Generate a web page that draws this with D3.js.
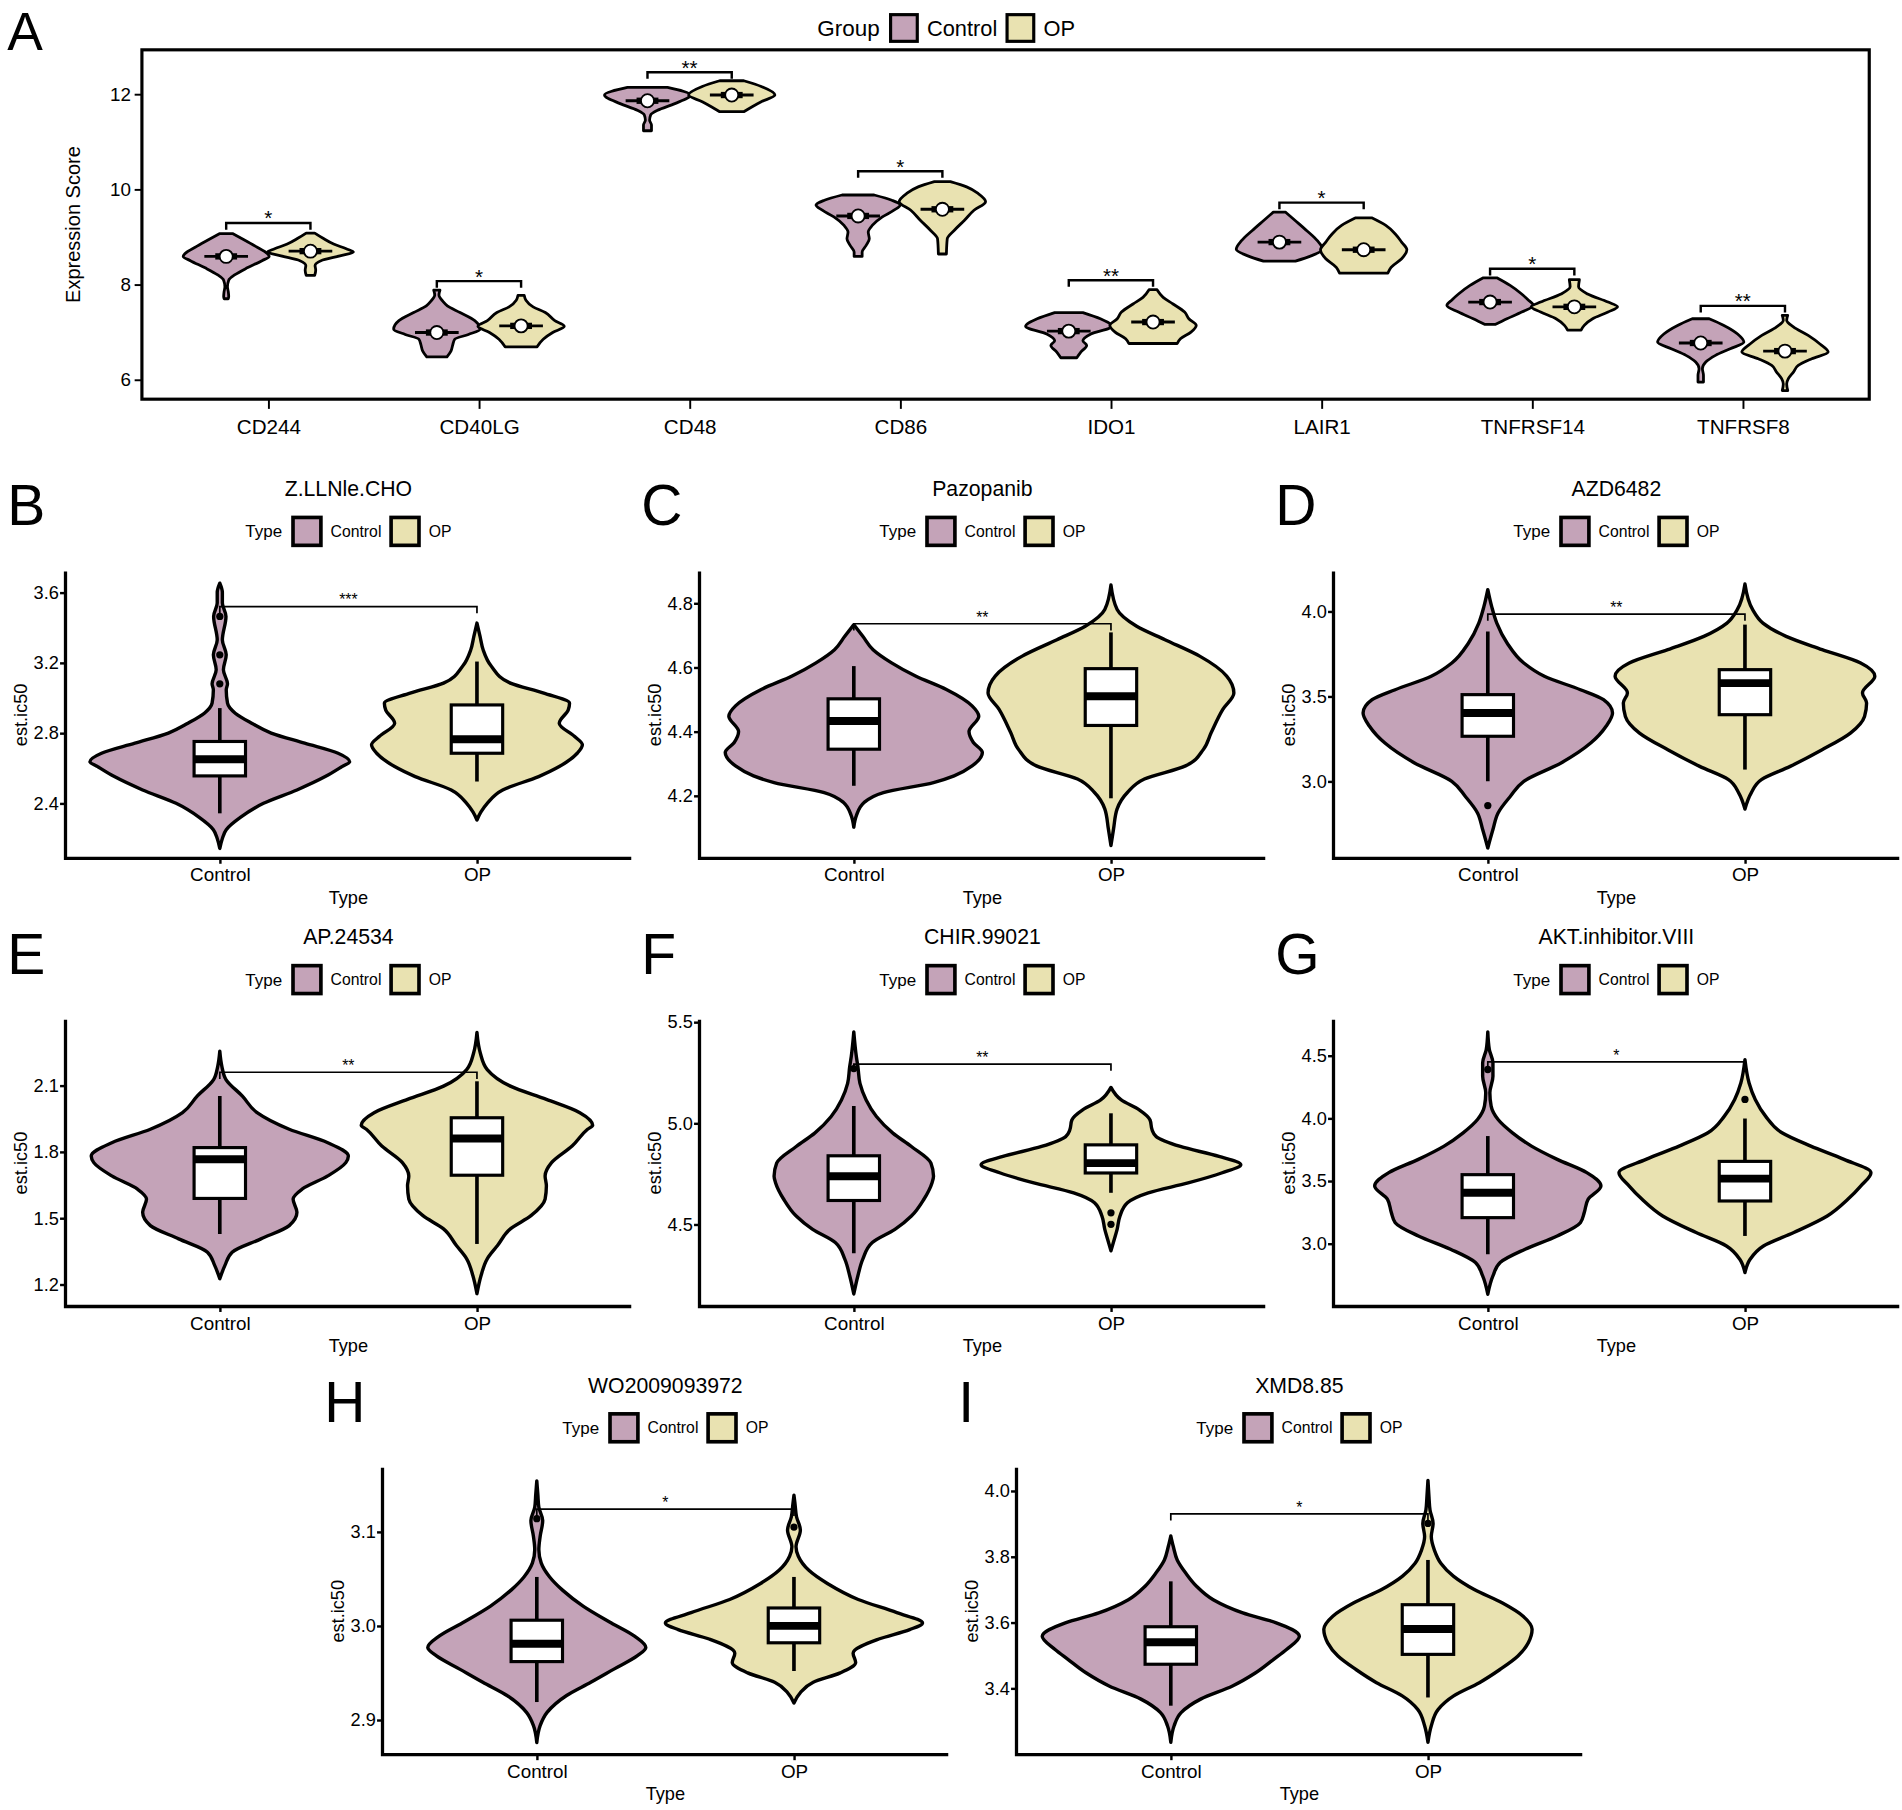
<!DOCTYPE html>
<html>
<head>
<meta charset="utf-8">
<script src="https://cdn.jsdelivr.net/npm/d3@7"></script>
<style>
  body { margin: 0; background: #fff; }
  text { font-family: "Liberation Sans", Arial, sans-serif; fill: #000; }
</style>
</head>
<body>
<div id="chart"></div>
<script>
// ---------- data: panel A (immune checkpoint genes) ----------
const geneNames = ["CD244", "CD40LG", "CD48", "CD86", "IDO1", "LAIR1", "TNFRSF14", "TNFRSF8"];
const groupNames = ["Control", "OP"];
const groupFill = ["#C4A3B8", "#E9E2B1"];
const geneTicks = [6, 8, 10, 12];
const geneRange = [5.59, 12.93];
const geneSig = ["*", "*", "**", "*", "**", "*", "*", "**"];
const geneBracket = [9.29, 8.07, 12.46, 10.38, 8.09, 9.72, 8.33, 7.55];
// centre point (white dot) per gene: [Control, OP]
const geneCentre = [[8.59, 8.70], [6.99, 7.13], [11.86, 11.98], [9.44, 9.58],
                    [7.02, 7.21], [8.89, 8.73], [7.63, 7.53], [6.77, 6.60]];
// violin outlines: [value, relative half width], trimmed at data range
const geneViolin = [
  [[[9.07,0.03],[8.95,0.08],[8.8,0.14],[8.65,0.195],[8.59,0.204],[8.5,0.17],[8.35,0.1],[8.2,0.04],[8.09,0.012],[7.95,0.006],[7.85,0.01],[7.75,0.012],[7.70,0.01]],
   [[9.08,0.02],[8.97,0.06],[8.85,0.11],[8.75,0.17],[8.68,0.204],[8.6,0.14],[8.5,0.05],[8.4,0.022],[8.3,0.025],[8.19,0.02]]],
  [[[7.88,0.015],[7.78,0.01],[7.64,0.03],[7.55,0.05],[7.41,0.11],[7.24,0.18],[7.06,0.205],[6.95,0.15],[6.85,0.085],[6.74,0.076],[6.6,0.067],[6.48,0.048]],
   [[7.77,0.015],[7.67,0.023],[7.53,0.057],[7.41,0.115],[7.24,0.16],[7.12,0.205],[6.99,0.15],[6.85,0.105],[6.69,0.076]]],
  [[[12.14,0.095],[11.98,0.204],[11.8,0.13],[11.66,0.048],[11.56,0.015],[11.45,0.01],[11.35,0.019],[11.23,0.019]],
   [[12.28,0.057],[12.16,0.14],[11.98,0.205],[11.84,0.14],[11.73,0.095],[11.63,0.057]]],
  [[[9.88,0.076],[9.77,0.16],[9.67,0.2],[9.56,0.17],[9.42,0.115],[9.24,0.067],[9.1,0.048],[8.96,0.053],[8.82,0.038],[8.68,0.019],[8.59,0.019]],
   [[10.16,0.038],[10.05,0.115],[9.91,0.17],[9.74,0.205],[9.56,0.15],[9.35,0.105],[9.14,0.057],[8.96,0.023],[8.64,0.019]]],
  [[[7.41,0.067],[7.28,0.15],[7.12,0.205],[6.96,0.105],[6.82,0.067],[6.72,0.085],[6.58,0.057],[6.46,0.038]],
   [[7.89,0.019],[7.73,0.048],[7.59,0.095],[7.42,0.15],[7.28,0.17],[7.14,0.205],[7.0,0.18],[6.86,0.13],[6.76,0.115]]],
  [[[9.52,0.029],[9.34,0.076],[9.13,0.13],[8.92,0.18],[8.74,0.205],[8.6,0.15],[8.49,0.076]],
   [[9.4,0.038],[9.24,0.105],[9.06,0.15],[8.89,0.18],[8.73,0.205],[8.54,0.18],[8.36,0.13],[8.24,0.115]]],
  [[[8.14,0.032],[7.98,0.095],[7.8,0.15],[7.68,0.18],[7.56,0.205],[7.42,0.15],[7.28,0.08],[7.16,0.024]],
   [[8.10,0.024],[7.95,0.02],[7.8,0.063],[7.63,0.16],[7.53,0.205],[7.42,0.16],[7.28,0.087],[7.14,0.047],[7.04,0.032]]],
  [[[7.28,0.04],[7.14,0.11],[6.96,0.175],[6.79,0.205],[6.65,0.14],[6.51,0.07],[6.37,0.024],[6.23,0.008],[6.09,0.013],[5.95,0.013]],
   [[7.35,0.013],[7.25,0.008],[7.11,0.04],[6.93,0.11],[6.75,0.166],[6.58,0.205],[6.44,0.127],[6.3,0.063],[6.16,0.04],[6.02,0.016],[5.91,0.008],[5.77,0.013]]]
];

// ---------- data: panels B-I (drug sensitivity, est.ic50) ----------
const drugNames = ["Z.LLNle.CHO", "Pazopanib", "AZD6482", "AP.24534", "CHIR.99021",
                   "AKT.inhibitor.VIII", "WO2009093972", "XMD8.85"];
const drugLetters = ["B", "C", "D", "E", "F", "G", "H", "I"];
const drugSig = ["***", "**", "**", "**", "**", "*", "*", "*"];
const drugBracket = [3.52, 4.736, 3.984, 2.16, 5.292, 4.45, 3.124, 3.93];
const drugRange = [[2.087, 3.72], [4.005, 4.899], [2.547, 4.235], [1.1, 2.398],
                   [4.094, 5.512], [2.498, 4.787], [2.863, 3.168], [3.198, 4.07]];
const drugTicks = [[2.4, 2.8, 3.2, 3.6], [4.2, 4.4, 4.6, 4.8], [3.0, 3.5, 4.0], [1.2, 1.5, 1.8, 2.1],
                   [4.5, 5.0, 5.5], [3.0, 3.5, 4.0, 4.5], [2.9, 3.0, 3.1], [3.4, 3.6, 3.8, 4.0]];
// box stats: [lower whisker, q1, median, q3, upper whisker] for [Control, OP]
const drugBoxStats = [
  [[2.343, 2.556, 2.651, 2.752, 2.942], [2.524, 2.685, 2.765, 2.96, 3.207]],
  [[4.231, 4.345, 4.433, 4.502, 4.604], [4.192, 4.419, 4.51, 4.596, 4.709]],
  [[3.0, 3.265, 3.402, 3.51, 3.882], [3.069, 3.392, 3.578, 3.657, 3.922]],
  [[1.428, 1.589, 1.766, 1.819, 2.052], [1.383, 1.694, 1.86, 1.954, 2.119]],
  [[4.357, 4.618, 4.738, 4.839, 5.085], [4.656, 4.754, 4.803, 4.893, 5.049]],
  [[2.915, 3.207, 3.406, 3.55, 3.858], [3.061, 3.34, 3.518, 3.656, 3.998]],
  [[2.919, 2.962, 2.981, 3.006, 3.052], [2.952, 2.982, 3.0, 3.019, 3.052]],
  [[3.347, 3.473, 3.54, 3.587, 3.725], [3.372, 3.503, 3.58, 3.654, 3.79]]
];
const drugOutliers = [
  [[3.08, 3.245, 3.464], []],
  [[], []],
  [[2.857], []],
  [[], []],
  [[5.27], [4.557, 4.5]],
  [[4.389], [4.15]],
  [[3.114], [3.105]],
  [[], [3.901]]
];
const drugViolin = [
  [[[2.143,0],[2.2,0.01],[2.25,0.025],[2.32,0.08],[2.4,0.17],[2.476,0.3],[2.552,0.41],[2.609,0.475],[2.637,0.505],[2.685,0.46],[2.742,0.33],[2.8,0.2],[2.856,0.124],[2.913,0.06],[2.97,0.03],[3.046,0.025],[3.08,0.03],[3.16,0.014],[3.245,0.025],[3.33,0.01],[3.464,0.024],[3.54,0.01],[3.6,0.01],[3.653,0]],
   [[2.305,0],[2.35,0.015],[2.4,0.04],[2.476,0.1],[2.552,0.24],[2.609,0.32],[2.685,0.39],[2.733,0.41],[2.78,0.38],[2.856,0.32],[2.932,0.355],[2.97,0.36],[3.027,0.26],[3.084,0.13],[3.18,0.056],[3.274,0.024],[3.35,0.012],[3.426,0]]],
  [[[4.102,0],[4.138,0.01],[4.179,0.04],[4.21,0.115],[4.241,0.31],[4.262,0.39],[4.293,0.46],[4.335,0.5],[4.366,0.465],[4.4,0.448],[4.448,0.486],[4.48,0.46],[4.531,0.36],[4.573,0.24],[4.614,0.147],[4.655,0.075],[4.697,0.035],[4.733,0]],
   [[4.045,0],[4.096,0.01],[4.159,0.024],[4.21,0.064],[4.252,0.13],[4.293,0.29],[4.345,0.36],[4.397,0.39],[4.469,0.435],[4.52,0.478],[4.573,0.45],[4.635,0.345],[4.686,0.21],[4.728,0.1],[4.78,0.024],[4.857,0]]],
  [[[2.608,0],[2.716,0.02],[2.814,0.04],[2.912,0.088],[3.0,0.14],[3.108,0.285],[3.225,0.4],[3.324,0.46],[3.402,0.485],[3.48,0.45],[3.539,0.36],[3.618,0.22],[3.696,0.14],[3.814,0.075],[3.931,0.035],[4.029,0.015],[4.128,0]],
   [[2.837,0],[2.931,0.024],[3.01,0.064],[3.088,0.176],[3.186,0.3],[3.284,0.41],[3.382,0.465],[3.461,0.473],[3.52,0.457],[3.618,0.505],[3.696,0.45],[3.775,0.3],[3.853,0.16],[3.931,0.07],[4.01,0.03],[4.161,0]]],
  [[[1.226,0],[1.286,0.02],[1.346,0.048],[1.406,0.16],[1.466,0.27],[1.526,0.3],[1.586,0.285],[1.631,0.32],[1.691,0.42],[1.751,0.49],[1.781,0.5],[1.841,0.42],[1.902,0.27],[1.977,0.145],[2.052,0.088],[2.127,0.024],[2.187,0.008],[2.255,0]],
   [[1.158,0],[1.24,0.016],[1.316,0.04],[1.376,0.08],[1.451,0.13],[1.511,0.21],[1.586,0.265],[1.646,0.27],[1.691,0.265],[1.751,0.29],[1.826,0.37],[1.902,0.43],[1.92,0.45],[1.977,0.4],[2.037,0.27],[2.097,0.13],[2.172,0.04],[2.247,0.013],[2.34,0]]],
  [[[4.156,0],[4.246,0.016],[4.328,0.035],[4.41,0.072],[4.475,0.16],[4.541,0.224],[4.623,0.272],[4.705,0.304],[4.738,0.31],[4.803,0.3],[4.885,0.224],[4.951,0.152],[5.033,0.088],[5.115,0.048],[5.197,0.024],[5.279,0.016],[5.328,0.01],[5.451,0]],
   [[4.369,0],[4.426,0.013],[4.475,0.024],[4.541,0.035],[4.607,0.064],[4.656,0.145],[4.705,0.3],[4.754,0.43],[4.795,0.505],[4.836,0.42],[4.885,0.27],[4.934,0.176],[4.967,0.16],[5.016,0.152],[5.066,0.11],[5.115,0.04],[5.177,0]]],
  [[[2.596,0],[2.742,0.02],[2.849,0.048],[2.955,0.145],[3.061,0.27],[3.167,0.36],[3.247,0.375],[3.353,0.39],[3.459,0.44],[3.566,0.385],[3.672,0.27],[3.778,0.17],[3.884,0.096],[3.99,0.04],[4.097,0.013],[4.203,0.008],[4.336,0.02],[4.442,0.02],[4.548,0.006],[4.689,0]],
   [[2.769,0],[2.875,0.02],[2.981,0.072],[3.088,0.19],[3.22,0.32],[3.353,0.4],[3.459,0.45],[3.566,0.49],[3.672,0.385],[3.778,0.256],[3.884,0.144],[4.017,0.08],[4.15,0.04],[4.282,0.016],[4.468,0]]],
  [[[2.876,0],[2.894,0.013],[2.908,0.04],[2.926,0.116],[2.94,0.21],[2.954,0.3],[2.968,0.39],[2.977,0.424],[2.989,0.38],[3.003,0.29],[3.021,0.18],[3.038,0.1],[3.052,0.05],[3.067,0.017],[3.081,0.008],[3.095,0.013],[3.112,0.023],[3.126,0.008],[3.14,0.004],[3.154,0]],
   [[2.918,0],[2.929,0.025],[2.94,0.075],[2.95,0.18],[2.961,0.24],[2.971,0.23],[2.986,0.33],[2.996,0.45],[3.003,0.5],[3.014,0.4],[3.028,0.25],[3.045,0.13],[3.059,0.058],[3.074,0.017],[3.084,0.008],[3.102,0.025],[3.116,0.01],[3.13,0.004],[3.139,0]]],
  [[[3.236,0],[3.286,0.013],[3.326,0.04],[3.367,0.116],[3.407,0.24],[3.447,0.33],[3.488,0.4],[3.518,0.45],[3.558,0.5],[3.599,0.41],[3.629,0.28],[3.669,0.165],[3.71,0.1],[3.75,0.058],[3.79,0.025],[3.83,0.01],[3.863,0]],
   [[3.236,0],[3.286,0.013],[3.336,0.04],[3.377,0.1],[3.417,0.2],[3.457,0.28],[3.498,0.35],[3.538,0.39],[3.579,0.405],[3.619,0.37],[3.659,0.29],[3.7,0.18],[3.74,0.1],[3.78,0.05],[3.82,0.025],[3.861,0.013],[3.901,0.02],[3.942,0.008],[3.982,0.004],[4.032,0]]]
];

// ---------- drawing ----------
const W = 1568, H = 1492;
const svg = d3.select("#chart").append("svg")
  .attr("width", 1902).attr("height", 1810)
  .attr("viewBox", [0, 0, W, H]);

function violinPath(profile, cx, y, w) {
  const pts = profile.slice().sort((a, b) => b[0] - a[0]);
  return d3.area().curve(d3.curveMonotoneY)
    .y(d => y(d[0]))
    .x0(d => cx - w(d[1]))
    .x1(d => cx + w(d[1]))(pts);
}

function legend(g, cx, cy, title, titleSize, labelSize, sw, strokeW) {
  const lg = g.append("g");
  let x = 0;
  const t = lg.append("text").attr("x", x).attr("y", cy).attr("dy", "0.35em")
    .style("font-size", titleSize + "px").text(title);
  x += t.node().getComputedTextLength() + 9;
  groupNames.forEach((name, k) => {
    lg.append("rect").attr("x", x).attr("y", cy - sw / 2).attr("width", sw).attr("height", sw)
      .attr("fill", groupFill[k]).attr("stroke", "#000").attr("stroke-width", strokeW);
    x += sw + 8;
    const lt = lg.append("text").attr("x", x).attr("y", cy).attr("dy", "0.35em")
      .style("font-size", labelSize + "px").text(name);
    x += lt.node().getComputedTextLength() + 8;
  });
  lg.attr("transform", `translate(${cx - (x - 8) / 2},0)`);
}

// ----- panel A -----
const gA = svg.append("g");
const aLeft = 117, aRight = 1541, aTop = 41, aBottom = 329;
const ax = d3.scalePoint().domain(geneNames).range([aLeft, aRight]).padding(0.6);
const ay = d3.scaleLinear().domain(geneRange).range([aBottom, aTop]);
const aw = d3.scaleLinear().domain([0, 1]).range([0, ax.step()]);
const dodge = 0.2 * ax.step();

gA.append("text").attr("x", 6).attr("y", 41).style("font-size", "44px").text("A");
legend(gA, 780, 23, "Group", 18.5, 18, 22, 2.6);

const yAxA = gA.append("g").attr("transform", `translate(${aLeft},0)`)
  .call(d3.axisLeft(ay).tickValues(geneTicks).tickSize(6).tickPadding(3));
yAxA.select(".domain").remove();
yAxA.selectAll("line").attr("stroke-width", 1.6);
yAxA.selectAll("text").style("font-size", "15.5px");

const xAxA = gA.append("g").attr("transform", `translate(0,${aBottom})`)
  .call(d3.axisBottom(ax).tickSize(8).tickPadding(9));
xAxA.select(".domain").remove();
xAxA.selectAll("line").attr("stroke-width", 1.6);
xAxA.selectAll("text").style("font-size", "17px");

gA.append("text")
  .attr("transform", `translate(66,${(aTop + aBottom) / 2}) rotate(-90)`)
  .attr("text-anchor", "middle").style("font-size", "16.5px").text("Expression Score");

geneNames.forEach((gene, gi) => {
  const c = ax(gene);
  groupNames.forEach((grp, k) => {
    const cx = c + (k === 0 ? -dodge : dodge);
    gA.append("path").attr("d", violinPath(geneViolin[gi][k], cx, ay, aw))
      .attr("fill", groupFill[k]).attr("stroke", "#000").attr("stroke-width", 2.3)
      .attr("stroke-linejoin", "round");
    const yc = ay(geneCentre[gi][k]);
    gA.append("line").attr("x1", cx - 18).attr("x2", cx + 18).attr("y1", yc).attr("y2", yc)
      .attr("stroke", "#000").attr("stroke-width", 2.4);
    gA.append("rect").attr("x", cx - 9).attr("width", 18).attr("y", yc - 2.6).attr("height", 5.2)
      .attr("fill", "#000");
    gA.append("circle").attr("cx", cx).attr("cy", yc).attr("r", 5.4)
      .attr("fill", "#fff").attr("stroke", "#000").attr("stroke-width", 1.5);
  });
  const by = ay(geneBracket[gi]);
  gA.append("path")
    .attr("d", `M${c - dodge},${by + 5.5}V${by}H${c + dodge}V${by + 5.5}`)
    .attr("fill", "none").attr("stroke", "#000").attr("stroke-width", 2);
  gA.append("text").attr("x", c).attr("y", by + 2).attr("text-anchor", "middle")
    .style("font-size", "17px").text(geneSig[gi]);
});

gA.append("rect").attr("x", aLeft).attr("y", aTop)
  .attr("width", aRight - aLeft).attr("height", aBottom - aTop)
  .attr("fill", "none").attr("stroke", "#000").attr("stroke-width", 2.6);

// ----- panels B-I -----
const cellW = W / 3, cellH = 369.5, firstRowTop = 382;
const fmt = d3.format(".1f");

drugNames.forEach((drug, i) => {
  const x0 = i < 6 ? (i % 3) * cellW : cellW / 2 + (i - 6) * cellW;
  const top = firstRowTop + (i < 6 ? Math.floor(i / 3) : 2) * cellH;
  const left = x0 + 54, right = left + 466.4;
  const pTop = top + 89, pBottom = top + 325.5;
  const g = svg.append("g");

  const x = d3.scalePoint().domain(groupNames).range([left, right]).padding(0.6);
  const y = d3.scaleLinear().domain(drugRange[i]).range([pBottom, pTop]);
  const w = d3.scaleLinear().domain([0, 1]).range([0, x.step()]);
  const mid = (left + right) / 2;

  g.append("text").attr("x", x0 + 6).attr("y", top + 51).style("font-size", "47px").text(drugLetters[i]);
  g.append("text").attr("x", mid).attr("y", top + 27).attr("text-anchor", "middle")
    .style("font-size", "17.5px").text(drug);
  legend(g, mid, top + 56, "Type", 14, 13, 23, 3);

  groupNames.forEach((grp, k) => {
    const cx = x(grp);
    g.append("path").attr("d", violinPath(drugViolin[i][k], cx, y, w))
      .attr("fill", groupFill[k]).attr("stroke", "#000").attr("stroke-width", 2.8)
      .attr("stroke-linejoin", "round");
    const s = drugBoxStats[i][k];
    const bw = 0.1 * x.step();
    g.append("line").attr("x1", cx).attr("x2", cx).attr("y1", y(s[0])).attr("y2", y(s[4]))
      .attr("stroke", "#000").attr("stroke-width", 3);
    g.append("rect").attr("x", cx - bw).attr("width", 2 * bw)
      .attr("y", y(s[3])).attr("height", y(s[1]) - y(s[3]))
      .attr("fill", "#fff").attr("stroke", "#000").attr("stroke-width", 2.6);
    g.append("line").attr("x1", cx - bw).attr("x2", cx + bw).attr("y1", y(s[2])).attr("y2", y(s[2]))
      .attr("stroke", "#000").attr("stroke-width", 6.5);
    g.selectAll(null).data(drugOutliers[i][k]).join("circle")
      .attr("cx", cx).attr("cy", d => y(d)).attr("r", 3).attr("fill", "#000");
  });

  const by = y(drugBracket[i]);
  g.append("path")
    .attr("d", `M${x("Control")},${by + 5.5}V${by}H${x("OP")}V${by + 5.5}`)
    .attr("fill", "none").attr("stroke", "#000").attr("stroke-width", 1.4);
  g.append("text").attr("x", mid).attr("y", by - 1).attr("text-anchor", "middle")
    .style("font-size", "13px").text(drugSig[i]);

  const yAx = g.append("g").attr("transform", `translate(${left},0)`)
    .call(d3.axisLeft(y).tickValues(drugTicks[i]).tickFormat(fmt).tickSize(4.5).tickPadding(1));
  yAx.select(".domain").remove();
  yAx.selectAll("line").attr("stroke-width", 2);
  yAx.selectAll("text").style("font-size", "15px");

  const xAx = g.append("g").attr("transform", `translate(0,${pBottom})`)
    .call(d3.axisBottom(x).tickSize(4.5).tickPadding(3.5));
  xAx.select(".domain").remove();
  xAx.selectAll("line").attr("stroke-width", 2);
  xAx.selectAll("text").style("font-size", "15.5px");

  g.append("path").attr("d", `M${left},${pTop}V${pBottom}H${right}`)
    .attr("fill", "none").attr("stroke", "#000").attr("stroke-width", 2.7);

  g.append("text").attr("x", mid).attr("y", top + 363).attr("text-anchor", "middle")
    .style("font-size", "15px").text("Type");
  g.append("text")
    .attr("transform", `translate(${x0 + 22},${(pTop + pBottom) / 2}) rotate(-90)`)
    .attr("text-anchor", "middle").style("font-size", "15px").text("est.ic50");
});
</script>
</body>
</html>
